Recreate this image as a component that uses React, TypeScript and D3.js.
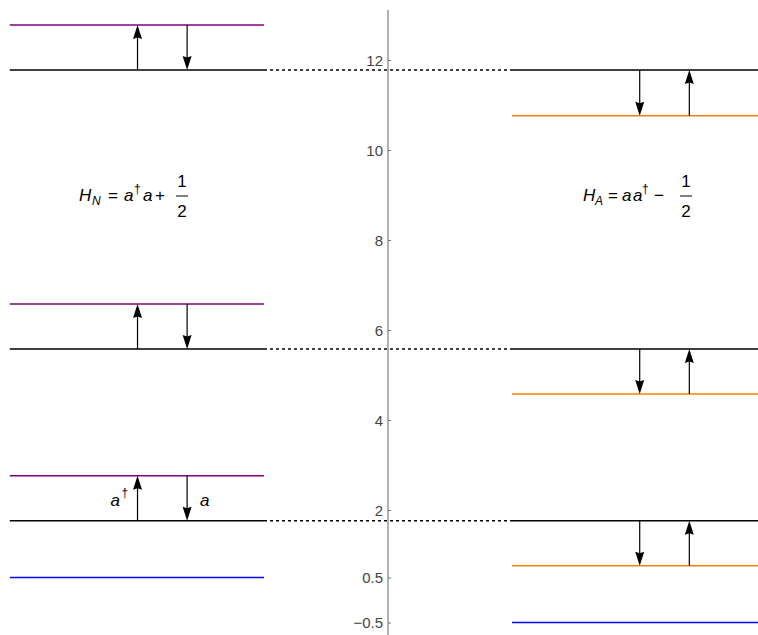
import React, { useEffect, useRef } from 'react';
import * as d3 from 'd3';

// energy levels
const neutralLevels = [1.76, 5.58, 11.78];
const raisedLevels = [2.76, 6.58, 12.78];
const loweredLevels = [0.76, 4.58, 10.76];
const leftGround = 0.5;
const rightGround = -0.5;
const yTicks = [-0.5, 0.5, 2, 4, 6, 8, 10, 12];
const tickLabels = ['\u22120.5', '0.5', '2', '4', '6', '8', '10', '12'];

// horizontal positions of the level segments and arrows
const leftSpan = [-3.05, -1];
const rightSpan = [1, 3.1];
const leftArrows = [-2.02, -1.62];
const rightArrows = [2.03, 2.43];

const FONT = "'Liberation Sans', Arial, Helvetica, sans-serif";

// pieces of the two hamiltonians: text, x offset from the H, raised/lowered, small, italic
type Piece = [string, number, number, boolean, boolean];
const leftFormula: Piece[] = [
  ['H', 0, 0, false, true],
  ['N', 13, 4, true, true],
  ['=', 29, 0, false, false],
  ['a', 45, 0, false, true],
  ['\u2020', 55, -8, true, false],
  ['a', 64, 0, false, true],
  ['+', 76, 0, false, false],
];
const rightFormula: Piece[] = [
  ['H', 0, 0, false, true],
  ['A', 12, 4, true, true],
  ['=', 25, 0, false, false],
  ['a', 39, 0, false, true],
  ['a', 50, 0, false, true],
  ['\u2020', 59, -8, true, false],
  ['\u2212', 71, 0, false, false],
];

const App = () => {
  const ref = useRef<SVGSVGElement>(null);

  useEffect(() => {
    const width = 758;
    const height = 635;
    const svg = d3.select(ref.current);
    svg.selectAll('*').remove();
    svg.attr('width', width).attr('height', height).style('font-family', FONT);

    const x = d3.scaleLinear().domain([-1, 1]).range([264, 512]);
    const y = d3.scaleLinear().domain([2, 12]).range([510, 60]);

    const hline = (x0: number, x1: number, v: number, color: string, dash?: string) => {
      svg
        .append('line')
        .attr('x1', x(x0))
        .attr('x2', x(x1))
        .attr('y1', y(v))
        .attr('y2', y(v))
        .attr('stroke', color)
        .attr('stroke-width', 1.5)
        .attr('stroke-dasharray', dash || null);
    };

    const arrow = (xv: number, from: number, to: number) => {
      const px = x(xv);
      const y0 = y(from);
      const y1 = y(to);
      const dir = y1 < y0 ? 1 : -1;
      const headLen = 14;
      const headW = 4.5;
      svg
        .append('line')
        .attr('x1', px)
        .attr('x2', px)
        .attr('y1', y0)
        .attr('y2', y1 + dir * (headLen - 2))
        .attr('stroke', '#000')
        .attr('stroke-width', 1.2);
      const p = d3.path();
      p.moveTo(px, y1);
      p.lineTo(px - headW, y1 + dir * headLen);
      p.lineTo(px, y1 + dir * (headLen - 1.5));
      p.lineTo(px + headW, y1 + dir * headLen);
      p.closePath();
      svg.append('path').attr('d', p.toString()).attr('fill', '#000');
    };

    // axis
    const axis = d3
      .axisRight(y)
      .tickValues(yTicks)
      .tickSize(3)
      .tickFormat((d, i) => tickLabels[i]);
    const ax = svg.append('g').attr('transform', `translate(${x(0)},0)`).call(axis);
    ax.attr('font-family', null).attr('font-size', null);
    ax.select('.domain').attr('stroke', '#666').attr('d', `M0,10V${height}`);
    ax.selectAll('.tick line').attr('stroke', '#777');
    ax.selectAll('.tick text')
      .attr('x', -5)
      .attr('dy', '0.36em')
      .attr('text-anchor', 'end')
      .attr('fill', '#444')
      .style('font-family', FONT)
      .style('font-size', '15px');

    // ground states
    hline(leftSpan[0], leftSpan[1], leftGround, '#0000ff');
    hline(rightSpan[0], rightSpan[1], rightGround, '#0000ff');

    neutralLevels.forEach((v, i) => {
      hline(leftSpan[0], leftSpan[1], v, '#000');
      hline(rightSpan[0], rightSpan[1], v, '#000');
      hline(leftSpan[1], rightSpan[0], v, '#000', '3,3');
      hline(leftSpan[0], leftSpan[1], raisedLevels[i], '#800080');
      hline(rightSpan[0], rightSpan[1], loweredLevels[i], '#ff8000');
      arrow(leftArrows[0], v, raisedLevels[i]);
      arrow(leftArrows[1], raisedLevels[i], v);
      arrow(rightArrows[0], v, loweredLevels[i]);
      arrow(rightArrows[1], loweredLevels[i], v);
    });

    // operator labels beside the lowest arrows
    const mid = (neutralLevels[0] + raisedLevels[0]) / 2;
    const piece = (g: any, s: string, px: number, py: number, small: boolean, italic: boolean) =>
      g
        .append('text')
        .attr('x', px)
        .attr('y', py)
        .style('font-family', FONT)
        .style('font-size', small ? '12px' : '17px')
        .style('font-style', italic ? 'italic' : 'normal')
        .text(s);
    const by = y(mid) + 8;
    piece(svg, 'a', x(leftArrows[0]) - 27, by, false, true);
    piece(svg, '\u2020', x(leftArrows[0]) - 16, by - 9, true, false);
    piece(svg, 'a', x(leftArrows[1]) + 13, by, false, true);

    // hamiltonian labels
    const formula = (x0: number, base: number, pieces: Piece[], fx: number) => {
      const g = svg.append('g').attr('transform', `translate(${x0},${base})`);
      pieces.forEach(([s, px, py, small, italic]) => piece(g, s, px, py, small, italic));
      piece(g, '1', fx - 4.7, -14, false, false);
      g.append('line')
        .attr('x1', fx - 6)
        .attr('x2', fx + 6)
        .attr('y1', -5)
        .attr('y2', -5)
        .attr('stroke', '#000')
        .attr('stroke-width', 1);
      piece(g, '2', fx - 4.7, 16, false, false);
    };
    formula(79, 201, leftFormula, 103);
    formula(583, 201, rightFormula, 103);
  }, []);

  return (
    <svg
      ref={ref}
      style={{ position: 'absolute', left: 0, top: 0, display: 'block', background: '#fff' }}
    />
  );
};

export default App;
